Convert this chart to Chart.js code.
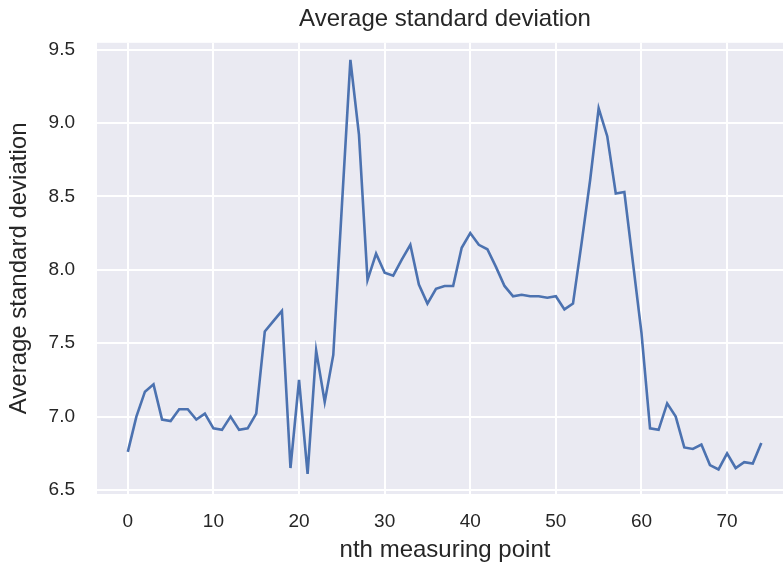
<!DOCTYPE html>
<html>
<head>
<meta charset="utf-8">
<script src="https://cdn.jsdelivr.net/npm/chart.js@4/dist/chart.umd.min.js"></script>
<style>
  html, body { margin: 0; padding: 0; background: #ffffff; overflow: hidden; }
  #frame { width: 783px; height: 565px; overflow: hidden; }
  /* the axes run a little past the right edge of the frame */
  #wrap { width: 793px; height: 565px; position: relative; }
</style>
</head>
<body>
<div id="frame"><div id="wrap"><canvas id="stdChart"></canvas></div></div>
<script>
// Average standard deviation per measuring point
const avgStd = [
    6.76, 7.00, 7.17, 7.22, 6.98, 6.97, 7.05, 7.05, 6.98, 7.02,
    6.92, 6.91, 7.00, 6.91, 6.92, 7.02, 7.58, 7.65, 7.72, 6.65,
    7.25, 6.61, 7.45, 7.10, 7.42, 8.43, 9.43, 8.92, 7.93, 8.11,
    7.98, 7.96, 8.07, 8.17, 7.90, 7.77, 7.87, 7.89, 7.89, 8.15,
    8.25, 8.17, 8.14, 8.02, 7.89, 7.82, 7.83, 7.82, 7.82, 7.81,
    7.82, 7.73, 7.77, 8.18, 8.61, 9.10, 8.91, 8.52, 8.53, 8.05,
    7.57, 6.92, 6.91, 7.09, 7.00, 6.79, 6.78, 6.81, 6.67, 6.64,
    6.75, 6.65, 6.69, 6.68, 6.82
];

const xTicks = [0, 10, 20, 30, 40, 50, 60, 70];
const yTicks = [6.5, 7.0, 7.5, 8.0, 8.5, 9.0, 9.5];

const textColor = '#262626';
const fontFamily = '"Liberation Sans", Arial, sans-serif';

// seaborn-like grey panel behind the plot area
const panelBg = {
    id: 'panelBg',
    beforeDraw(chart) {
        const {ctx, chartArea: a} = chart;
        ctx.save();
        ctx.fillStyle = '#eaeaf2';
        ctx.fillRect(a.left, a.top, a.right - a.left, a.bottom - a.top);
        ctx.restore();
    }
};

const ctx = document.getElementById('stdChart').getContext('2d');
new Chart(ctx, {
    type: 'line',
    data: {
        datasets: [{
            data: avgStd.map((v, i) => ({x: i, y: v})),
            borderColor: '#4c72b0',
            borderWidth: 2.6,
            pointRadius: 0,
            tension: 0,
            fill: false
        }]
    },
    options: {
        responsive: true,
        maintainAspectRatio: false,
        animation: false,
        layout: { padding: 0 },
        plugins: {
            legend: { display: false },
            tooltip: { enabled: false },
            title: {
                display: true,
                fullSize: false,
                text: 'Average standard deviation',
                color: textColor,
                font: { family: fontFamily, size: 24, weight: 'normal', lineHeight: 1.2 },
                padding: { top: 5, bottom: 9 }
            }
        },
        scales: {
            x: {
                type: 'linear',
                min: -3.6,
                max: 77.7,
                afterBuildTicks: scale => { scale.ticks = xTicks.map(v => ({value: v})); },
                afterFit: scale => { scale.height = 71; },
                border: { display: false },
                grid: { color: '#ffffff', lineWidth: 2, drawTicks: false },
                ticks: {
                    color: textColor,
                    padding: 16,
                    maxRotation: 0,
                    font: { family: fontFamily, size: 19 }
                },
                title: {
                    display: true,
                    text: 'nth measuring point',
                    color: textColor,
                    font: { family: fontFamily, size: 24, lineHeight: 1.1 },
                    padding: { top: 0, bottom: 1 }
                }
            },
            y: {
                type: 'linear',
                min: 6.473,
                max: 9.546,
                afterBuildTicks: scale => { scale.ticks = yTicks.map(v => ({value: v})); },
                afterFit: scale => { scale.width = 97; },
                border: { display: false },
                grid: { color: '#ffffff', lineWidth: 2, drawTicks: false },
                ticks: {
                    color: textColor,
                    padding: 22,
                    font: { family: fontFamily, size: 19 },
                    callback: v => v.toFixed(1)
                },
                title: {
                    display: true,
                    text: 'Average standard deviation',
                    color: textColor,
                    font: { family: fontFamily, size: 24, lineHeight: 1.1 },
                    padding: { top: 6, bottom: 0 }
                }
            }
        }
    },
    plugins: [panelBg]
});
</script>
</body>
</html>
